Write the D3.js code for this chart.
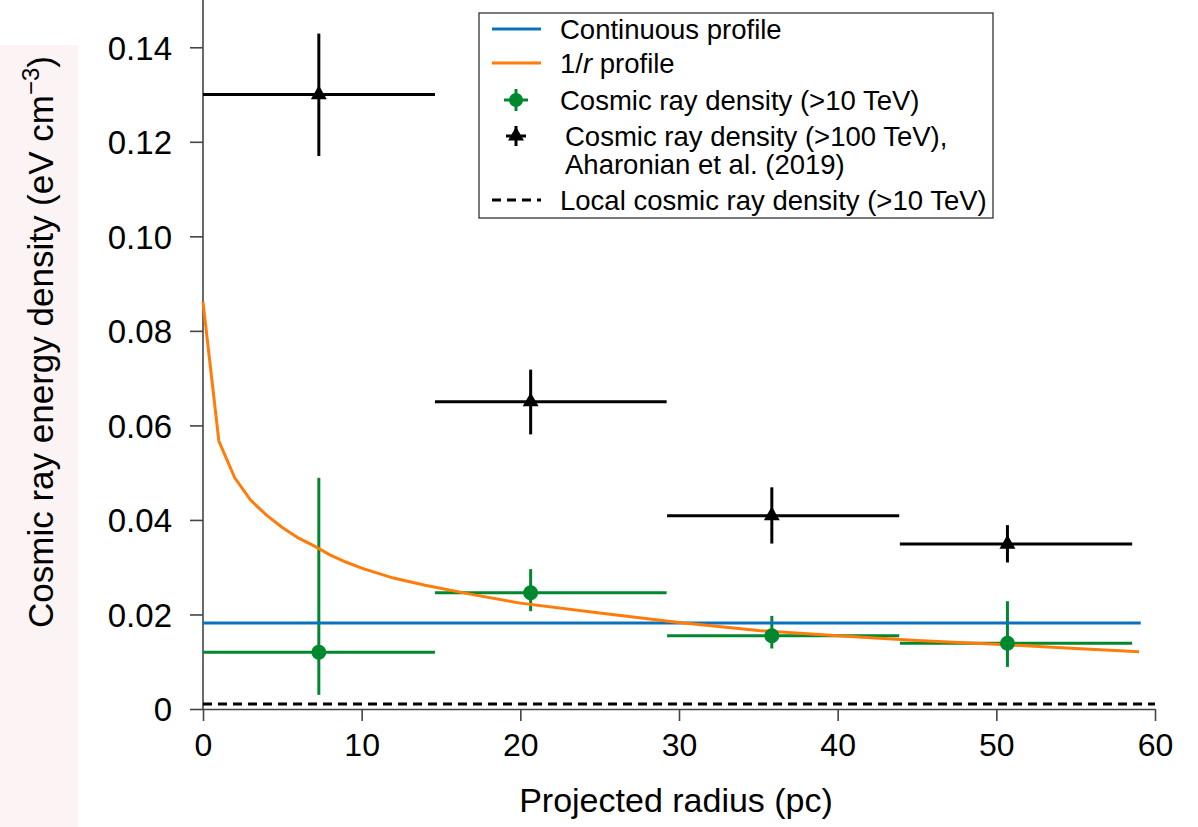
<!DOCTYPE html>
<html>
<head>
<meta charset="utf-8">
<script src="https://cdn.jsdelivr.net/npm/d3@7"></script>
<style>
  body { margin: 0; background: #fff; }
  svg text { font-family: "Liberation Sans", Arial, Helvetica, sans-serif; fill: #000; }
</style>
</head>
<body>
<div id="chart"></div>
<script>
//Chart data
const xTicks = [0, 10, 20, 30, 40, 50, 60]
const yTicks = [0, 0.02, 0.04, 0.06, 0.08, 0.10, 0.12, 0.14]
const yTickLabels = ["0", "0.02", "0.04", "0.06", "0.08", "0.10", "0.12", "0.14"]

//radial bins (pc)
const binLeft = [0, 14.62, 29.25, 43.92]
const binRight = [14.62, 29.22, 43.88, 58.56]
const binCentre = [7.3, 20.65, 35.85, 50.7]

//cosmic ray density >10 TeV (this work)
const greenValue = [0.0120, 0.0246, 0.0155, 0.0139]
const greenUpper = [0.0489, 0.0296, 0.0197, 0.0228]
const greenLower = [0.0030, 0.0207, 0.0128, 0.0089]

//cosmic ray density >100 TeV, Aharonian et al. (2019)
const blackValue = [0.1300, 0.0650, 0.0409, 0.0349]
const blackUpper = [0.1429, 0.0718, 0.0469, 0.0389]
const blackLower = [0.1170, 0.0581, 0.0350, 0.0310]

//1/r profile
const profileRadius = [0, 1, 2, 3, 4, 5, 6, 7, 8, 9, 10, 12, 14, 17, 20, 25, 30, 35, 40, 45, 50, 55, 59]
const profileValue = [0.0861, 0.0567, 0.0489, 0.0442, 0.0410, 0.0384, 0.0362, 0.0345, 0.0326, 0.0311, 0.0298,
                      0.0277, 0.0262, 0.0242, 0.0224, 0.0203, 0.0183, 0.0166, 0.0155, 0.0145, 0.0137, 0.0128, 0.0121]

//continuous profile and local density
const continuousValue = 0.0182
const continuousRange = [0, 59.1]
const localValue = 0.00105
const localRange = [0, 60]

const legendLabels = ["Continuous profile", "1/r profile", "Cosmic ray density (>10 TeV)",
                      "Cosmic ray density (>100 TeV),", "Local cosmic ray density (>10 TeV)"]

//Colours
const blue = "#0a72bd"
const orange = "#ff7c0a"
const green = "#00882f"

const width = 1198
const height = 827
const margin = {top: 0, left: 203, right: 43, bottom: 118}

const svg = d3.select("#chart")
  .append("svg")
  .attr("width", width)
  .attr("height", height)

//faint pink scribble on the left edge of the original page
svg.append("rect")
  .attr("x", 0).attr("y", 45)
  .attr("width", 78).attr("height", 782)
  .attr("fill", "#f5d9d9")
  .attr("opacity", 0.3)

const x = d3.scaleLinear()
  .domain([0, 60])
  .range([margin.left, width - margin.right])

const y = d3.scaleLinear()
  .domain([0, 0.15])
  .range([height - margin.bottom, margin.top])

//Axes
const xAxis = d3.axisBottom(x)
  .tickValues(xTicks)
  .tickSize(12)
  .tickSizeOuter(0)
  .tickPadding(12)

const yAxis = d3.axisLeft(y)
  .tickValues(yTicks)
  .tickFormat(function(d, i){ return yTickLabels[i] })
  .tickSize(13)
  .tickSizeOuter(0)
  .tickPadding(18)

const gx = svg.append("g")
  .attr("transform", "translate(0," + y(0) + ")")
  .call(xAxis)

const gy = svg.append("g")
  .attr("transform", "translate(" + x(0) + ",0)")
  .call(yAxis)

gx.selectAll("text").style("font-size", "32px").attr("dy", "0.72em")
gy.selectAll("text").style("font-size", "33px").attr("dy", "0.36em")
gx.selectAll("line, path").attr("stroke", "#444").attr("stroke-width", 1.6)
gy.selectAll("line, path").attr("stroke", "#444").attr("stroke-width", 1.6)
gy.select("path.domain").attr("d", "M0," + y(0) + "V0")

//Axis labels
svg.append("text")
  .attr("x", 676)
  .attr("y", 812)
  .attr("text-anchor", "middle")
  .style("font-size", "34px")
  .text("Projected radius (pc)")

const yLabel = svg.append("text")
  .attr("transform", "translate(53,342) rotate(-90)")
  .attr("text-anchor", "middle")
  .style("font-size", "35px")
yLabel.append("tspan").text("Cosmic ray energy density (eV cm")
yLabel.append("tspan").attr("dy", -14).style("font-size", "24px").text("\u22123")
yLabel.append("tspan").attr("dy", 14).text(")")

//Local density (dashed)
svg.append("line")
  .attr("x1", x(localRange[0])).attr("x2", x(localRange[1]))
  .attr("y1", y(localValue)).attr("y2", y(localValue))
  .attr("stroke", "#000")
  .attr("stroke-width", 3)
  .attr("stroke-dasharray", "9,6")

//Green error bars
const greenG = svg.append("g")
binCentre.forEach(function(c, i){
  greenG.append("line")
    .attr("x1", x(binLeft[i])).attr("x2", x(binRight[i]))
    .attr("y1", y(greenValue[i])).attr("y2", y(greenValue[i]))
    .attr("stroke", green).attr("stroke-width", 3)
  greenG.append("line")
    .attr("x1", x(c)).attr("x2", x(c))
    .attr("y1", y(greenUpper[i])).attr("y2", y(greenLower[i]))
    .attr("stroke", green).attr("stroke-width", 3)
})

//Black error bars
const blackG = svg.append("g")
binCentre.forEach(function(c, i){
  blackG.append("line")
    .attr("x1", x(binLeft[i])).attr("x2", x(binRight[i]))
    .attr("y1", y(blackValue[i])).attr("y2", y(blackValue[i]))
    .attr("stroke", "#000").attr("stroke-width", 3)
  blackG.append("line")
    .attr("x1", x(c)).attr("x2", x(c))
    .attr("y1", y(blackUpper[i])).attr("y2", y(blackLower[i]))
    .attr("stroke", "#000").attr("stroke-width", 3)
})

//Continuous profile
svg.append("line")
  .attr("x1", x(continuousRange[0])).attr("x2", x(continuousRange[1]))
  .attr("y1", y(continuousValue)).attr("y2", y(continuousValue))
  .attr("stroke", blue)
  .attr("stroke-width", 3)

//1/r profile
const line = d3.line()
  .x(function(d, i){ return x(profileRadius[i]) })
  .y(function(d){ return y(d) })

svg.append("path")
  .datum(profileValue)
  .attr("d", line)
  .attr("fill", "none")
  .attr("stroke", orange)
  .attr("stroke-width", 3)

//Markers
const triangle = d3.symbol().type(d3.symbolTriangle).size(110)
binCentre.forEach(function(c, i){
  svg.append("circle")
    .attr("cx", x(c)).attr("cy", y(greenValue[i]))
    .attr("r", 7.5)
    .attr("fill", green)
  svg.append("path")
    .attr("d", triangle)
    .attr("transform", "translate(" + x(c) + "," + y(blackValue[i]) + ")")
    .attr("fill", "#000")
})

//Legend
const legend = svg.append("g")
legend.append("rect")
  .attr("x", 479).attr("y", 13)
  .attr("width", 514).attr("height", 205)
  .attr("fill", "#fff")
  .attr("stroke", "#333")
  .attr("stroke-width", 1.3)

const rowY = [29, 63, 100, 136, 200]
const textX = [560, 560, 560, 565, 560]

legend.append("line")
  .attr("x1", 492).attr("x2", 541).attr("y1", rowY[0]).attr("y2", rowY[0])
  .attr("stroke", blue).attr("stroke-width", 3)
legend.append("line")
  .attr("x1", 492).attr("x2", 541).attr("y1", rowY[1]).attr("y2", rowY[1])
  .attr("stroke", orange).attr("stroke-width", 3)

//green marker sample
legend.append("line")
  .attr("x1", 504).attr("x2", 528).attr("y1", rowY[2]).attr("y2", rowY[2])
  .attr("stroke", green).attr("stroke-width", 3)
legend.append("line")
  .attr("x1", 516).attr("x2", 516).attr("y1", rowY[2] - 11).attr("y2", rowY[2] + 11)
  .attr("stroke", green).attr("stroke-width", 3)
legend.append("circle")
  .attr("cx", 516).attr("cy", rowY[2]).attr("r", 7)
  .attr("fill", green)

//black marker sample
legend.append("line")
  .attr("x1", 506).attr("x2", 526).attr("y1", rowY[3]).attr("y2", rowY[3])
  .attr("stroke", "#000").attr("stroke-width", 3)
legend.append("line")
  .attr("x1", 516).attr("x2", 516).attr("y1", rowY[3] - 10).attr("y2", rowY[3] + 10)
  .attr("stroke", "#000").attr("stroke-width", 3)
legend.append("path")
  .attr("d", triangle)
  .attr("transform", "translate(516," + rowY[3] + ")")
  .attr("fill", "#000")

legend.append("line")
  .attr("x1", 492).attr("x2", 541).attr("y1", rowY[4]).attr("y2", rowY[4])
  .attr("stroke", "#000").attr("stroke-width", 3)
  .attr("stroke-dasharray", "9,6")

legendLabels.forEach(function(t, i){
  const txt = legend.append("text")
    .attr("x", textX[i])
    .attr("y", rowY[i])
    .attr("dy", "0.35em")
    .style("font-size", "27.5px")
  if (i == 1) {
    txt.append("tspan").text("1/")
    txt.append("tspan").style("font-style", "italic").text("r")
    txt.append("tspan").text(" profile")
  } else {
    txt.text(t)
  }
})
legend.append("text")
  .attr("x", 565)
  .attr("y", 164)
  .attr("dy", "0.35em")
  .style("font-size", "27.5px")
  .text("Aharonian et al. (2019)")
</script>
</body>
</html>
